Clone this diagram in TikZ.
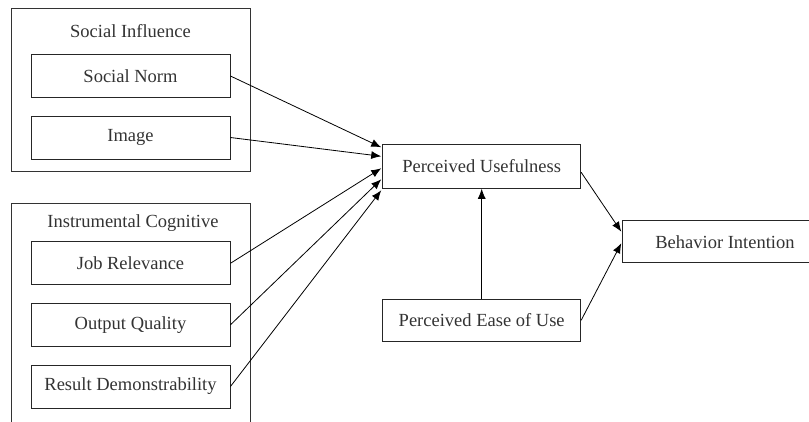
\documentclass[tikz,border=0pt]{standalone}
\usepackage{fontspec}
\setmainfont{Liberation Serif}
\usetikzlibrary{arrows.meta}
\begin{document}
\begin{tikzpicture}[x=1pt,y=-1pt,
  box/.style={draw=black!85, line width=0.9pt, minimum width=199pt, minimum height=43pt,
    inner sep=0pt, font=\fontsize{18.5}{21}\selectfont, text=black!80},
  group/.style={draw=black!80, line width=0.9pt},
  title/.style={font=\fontsize{18.5}{21}\selectfont, text=black!80, inner sep=0pt},
  link/.style={line width=0.8pt, -{Latex[length=10pt,width=8pt]}}]
\path[use as bounding box, clip] (0,0) rectangle (809,421);

% grouping frames
\draw[group] (11,8) rectangle (250,171);
\draw[group] (11,203) rectangle (250,440);
\node[title] (sititle) at (130.5,31) {Social Influence};
\node[title] (ictitle) at (133,223) {Instrumental Cognitive};

% determinant boxes
\node[box] (sn)  at (130.5,76)    {Social Norm};
\node[box] (img) at (130.5,137.5) {Image};
\node[box] (jr)  at (130.5,263.3) {Job Relevance};
\node[box] (oq)  at (130.5,324.8) {Output Quality};
\node[box] (rd)  at (130.5,386.5) {Result Demonstrability};

% core constructs
\node[box, minimum width=198pt, minimum height=44pt] (pu)   at (481.7,166.3) {Perceived Usefulness};
\node[box, minimum width=198pt, minimum height=42.7pt] (peou) at (481.7,320.3) {Perceived Ease of Use};
\node[box, minimum width=260pt, minimum height=42pt, anchor=west] (bi) at (622.3,241.7) {};
\node[title] (bitext) at (725,241.7) {Behavior Intention};

% arrow ends along the left side of Perceived Usefulness
\coordinate (p1) at ([xshift=-1pt,yshift=19pt]pu.west);
\coordinate (p2) at ([xshift=-1pt,yshift=10pt]pu.west);
\coordinate (p3) at ([xshift=-1pt,yshift=-2pt]pu.west);
\coordinate (p4) at ([xshift=-1pt,yshift=-13pt]pu.west);
\coordinate (p5) at ([xshift=-1pt,yshift=-24pt]pu.west);
\coordinate (b1) at ([xshift=-1pt,yshift=10pt]bi.west);
\coordinate (b2) at ([xshift=-1pt,yshift=-1.5pt]bi.west);
\coordinate (pus) at ([yshift=-6pt]pu.east);

\draw[link] (sn.east)  -- (p1);
\draw[link] (img.east) -- (p2);
\draw[link] (jr.east)  -- (p3);
\draw[link] (oq.east)  -- (p4);
\draw[link] (rd.east)  -- (p5);
\draw[link] (peou.north) -- (pu.south);
\draw[link] (pus) -- (b1);
\draw[link] (peou.east) -- (b2);
\end{tikzpicture}
\end{document}
